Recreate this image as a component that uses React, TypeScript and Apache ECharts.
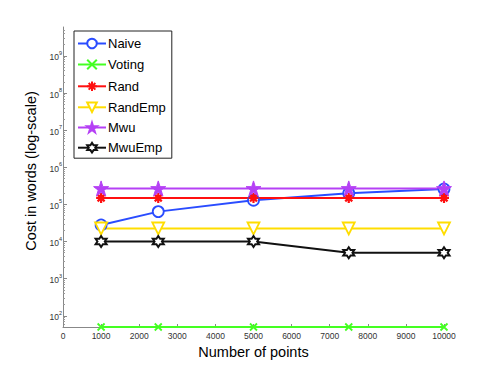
import React, { useEffect, useRef } from "react";
import * as echarts from "echarts";

const xValues = [1000, 2500, 5000, 7500, 10000];
const naive = [2.8e4, 6.4e4, 1.3e5, 2.0e5, 2.6e5];
const voting = [50, 50, 50, 50, 50];
const rand = [1.5e5, 1.5e5, 1.5e5, 1.5e5, 1.5e5];
const randEmp = [2.25e4, 2.25e4, 2.25e4, 2.25e4, 2.25e4];
const mwu = [2.7e5, 2.7e5, 2.7e5, 2.7e5, 2.7e5];
const mwuEmp = [1e4, 1e4, 1e4, 5e3, 5e3];
const yMajorTicks = [1e2, 1e3, 1e4, 1e5, 1e6, 1e7, 1e8, 1e9];
const xAxisLabel = "Number of points";
const yAxisLabel = "Cost in words (log-scale)";

const Y_MIN = 50;
const Y_MAX = 6e9;

const STAR =
  "path://M50,0 L61.23,34.55 L97.55,34.55 L68.17,55.9 L79.39,90.45 L50,69.1 L20.61,90.45 L31.83,55.9 L2.45,34.55 L38.77,34.55 Z";
const HEXAGRAM =
  "path://M50,0 L64.43,25 L93.3,25 L78.87,50 L93.3,75 L64.43,75 L50,100 L35.57,75 L6.7,75 L21.13,50 L6.7,25 L35.57,25 Z";
const XMARK = "path://M0,0 L10,10 M10,0 L0,10";
const ASTERISK = "path://M5,0 L5,10 M0,5 L10,5 M1.5,1.5 L8.5,8.5 M8.5,1.5 L1.5,8.5";
const TRI_DOWN = "path://M0,0 L10,0 L5,9 Z";

function pairs(vals: number[]) {
  return xValues.map((x, i) => [x, vals[i]]);
}

export default function App() {
  const ref = useRef<HTMLDivElement>(null);
  useEffect(() => {
    if (!ref.current) return;
    const chart = echarts.init(ref.current, null, { renderer: "svg" });
    const minor: number[] = [];
    for (let d = 1; d <= 9; d++) {
      for (let k = 2; k <= 9; k++) {
        const v = k * Math.pow(10, d);
        if (v > Y_MIN && v < Y_MAX) minor.push(v);
      }
    }
    const font = "'Liberation Sans', Arial, sans-serif";
    const mk = (
      name: string,
      vals: number[],
      color: string,
      symbol: string,
      size: number,
      fill: string,
      bw: number,
      lw: number
    ) => ({
      name,
      type: "line",
      data: pairs(vals),
      symbol,
      symbolSize: size,
      showAllSymbol: true,
      clip: false,
      lineStyle: { color, width: lw },
      itemStyle: { color: fill, borderColor: color, borderWidth: bw },
      emphasis: { disabled: true },
    });
    chart.setOption({
      animation: false,
      backgroundColor: "#ffffff",
      textStyle: { fontFamily: font },
      grid: { left: 63, right: 47, top: 27, bottom: 42, containLabel: false },
      legend: {
        orient: "vertical",
        left: 74,
        top: 31,
        padding: [6, 6, 4, 3],
        itemWidth: 28,
        itemHeight: 12,
        itemGap: 7.2,
        borderColor: "#222",
        borderWidth: 1,
        backgroundColor: "#fff",
        textStyle: { fontSize: 13, lineHeight: 13, color: "#000", fontFamily: font, padding: [0, 0, 0, -3] },
        data: ["Naive", "Voting", "Rand", "RandEmp", "Mwu", "MwuEmp"],
      },
      xAxis: {
        type: "value",
        min: 0,
        max: 10000,
        interval: 1000,
        name: xAxisLabel,
        nameLocation: "middle",
        nameGap: 14,
        nameTextStyle: { fontSize: 14.5, color: "#000", fontFamily: font },
        axisLine: { show: true, lineStyle: { color: "#888", width: 1 } },
        axisTick: { show: true, inside: true, length: 3, lineStyle: { color: "#888" } },
        axisLabel: {
          fontSize: 8.5,
          color: "#333",
          margin: 4,
          fontFamily: font,
          formatter: (v: number) => String(v),
        },
        splitLine: { show: false },
      },
      yAxis: [
        {
          type: "log",
          logBase: 10,
          min: Y_MIN,
          max: Y_MAX,
          name: yAxisLabel,
          nameLocation: "middle",
          nameGap: 20,
          nameRotate: 90,
          nameTextStyle: { fontSize: 14.5, color: "#000", fontFamily: font, padding: [0, 0, 0, 12] },
          axisLine: { show: true, lineStyle: { color: "#888", width: 1 } },
          axisTick: {
            show: true,
            inside: true,
            length: 4,
            customValues: yMajorTicks,
            lineStyle: { color: "#888" },
          },
          axisLabel: {
            customValues: yMajorTicks,
            margin: 1,
            color: "#333",
            formatter: (v: number) => "{b|10}{s|" + Math.round(Math.log10(v)) + "}",
            rich: {
              b: { fontSize: 8.5, color: "#333", fontFamily: font, verticalAlign: "bottom" },
              s: { fontSize: 5.5, color: "#333", fontFamily: font, verticalAlign: "top", padding: [0, 0, 6, 0] },
            },
          },
          splitLine: { show: false },
        },
        {
          type: "log",
          logBase: 10,
          min: Y_MIN,
          max: Y_MAX,
          position: "left",
          offset: 0,
          axisLine: { show: false },
          axisTick: {
            show: true,
            inside: true,
            length: 2,
            customValues: minor,
            lineStyle: { color: "#999" },
          },
          axisLabel: { show: false },
          splitLine: { show: false },
        },
      ],
      series: [
        mk("Naive", naive, "#2a4cff", "circle", 11, "#ffffff", 1.8, 2),
        mk("Voting", voting, "#44ff22", XMARK, 7, "none", 1.8, 2),
        mk("Rand", rand, "#ff1010", ASTERISK, 10, "none", 2.2, 2),
        mk("RandEmp", randEmp, "#ffdd00", TRI_DOWN, 12, "#ffffff", 1.8, 2.2),
        mk("Mwu", mwu, "#b540f5", STAR, 15, "#b540f5", 1, 2),
        mk("MwuEmp", mwuEmp, "#111111", HEXAGRAM, 11, "#ffffff", 2, 2),
      ],
    });
    return () => chart.dispose();
  }, []);
  return (
    <div
      ref={ref}
      style={{ position: "fixed", left: 0, top: 0, width: 491, height: 369, background: "#fff" }}
    />
  );
}
